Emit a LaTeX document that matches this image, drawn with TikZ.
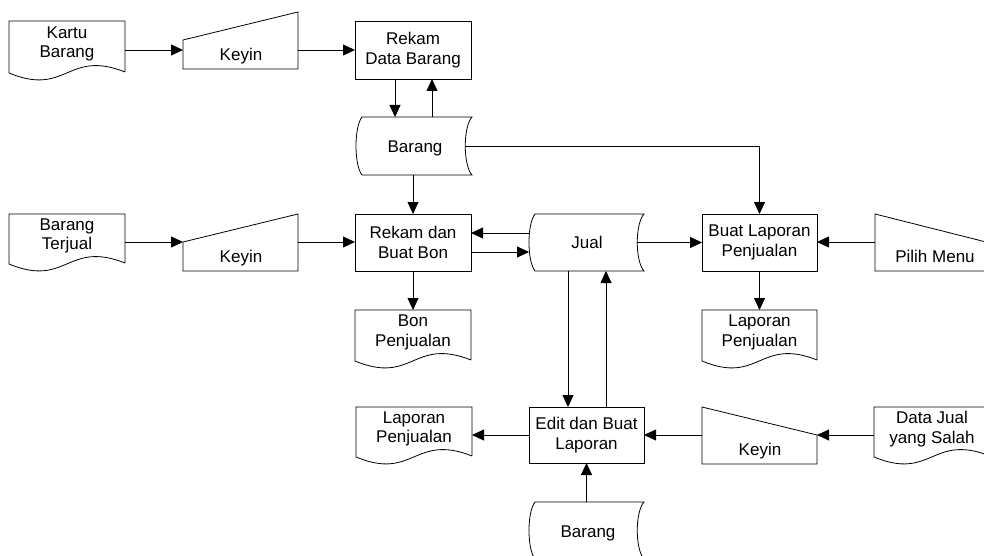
\documentclass[tikz,border=0pt]{standalone}
\usepackage{fontspec}
\setmainfont{Liberation Sans}
\usetikzlibrary{arrows.meta,calc}
\newcommand\docshape[6]{%
  \draw[shp] (#4,#5-1) -- (#4,#3) -- (#2,#3) -- (#2,#5) .. controls ({(#2+#4)/2},#5+24) and ({(#2+#4)/2},#5-24) .. (#4,#5-1);
  \node[area, minimum width={(#4-#2)*1pt}, minimum height={(#5-#3)*1pt}] (#1) at ({(#2+#4)/2},{(#3+#5)/2}) {};
  \node[txt] (#1-t) at ({(#2+#4)/2},{(#3+#5)/2-3}) {#6};}
\newcommand\storeshape[5]{%
  \draw[shp] (#2,#4) -- (#3,#4) .. controls (#3-9,#4+10) and (#3-9,#5-10) .. (#3,#5) -- (#2,#5) .. controls (#2-8,#5-10) and (#2-8,#4+10) .. (#2,#4) -- cycle;
  \node[area, minimum width={(#3-#2+6)*1pt}, minimum height={(#5-#4)*1pt}] (#1) at ({(#2-6+#3)/2},{(#4+#5)/2}) {};}
\begin{document}
\begin{tikzpicture}[x=1pt,y=-1pt,
  shp/.style={draw=black, line width=0.8pt, line join=miter},
  area/.style={draw=none, inner sep=0pt, outer sep=0pt, rectangle},
  proc/.style={draw=black, line width=0.8pt, inner sep=0pt, outer sep=0pt, align=center, font=\fontsize{17}{19.5}\selectfont},
  txt/.style={inner sep=0pt, align=center, font=\fontsize{17}{19.5}\selectfont},
  arr/.style={line width=0.8pt, -{Triangle[length=12pt,width=11pt]}}]
\path[use as bounding box, clip] (0,0) rectangle (984,556);
\fill[white] (0,0) rectangle (984,556);

% documents
\docshape{kartu}{9}{21}{125}{73}{Kartu\\Barang}
\docshape{barangT}{9}{214}{125}{264}{Barang\\Terjual}
\docshape{bon}{355}{310}{471}{361}{Bon\\Penjualan}
\docshape{lap1}{702}{310}{817}{361}{Laporan\\Penjualan}
\docshape{lap2}{356}{407}{472}{457}{Laporan\\Penjualan}
\docshape{datajual}{874}{407}{990}{457}{Data Jual\\yang Salah}

% manual inputs
\draw[shp] (183,40) -- (298,12) -- (298,69) -- (183,69) -- cycle;
\node[area, minimum width=115pt, minimum height=57pt] (keyin1) at (240.5,40.5) {};
\node[txt, anchor=base] (keyin1-t) at (241,61) {Keyin};
\draw[shp] (183,242) -- (298,214) -- (298,271) -- (183,271) -- cycle;
\node[area, minimum width=115pt, minimum height=57pt] (keyin2) at (240.5,242.5) {};
\node[txt, anchor=base] (keyin2-t) at (241,262) {Keyin};
\draw[shp] (875,214) -- (990,243) -- (990,271) -- (875,271) -- cycle;
\node[area, minimum width=115pt, minimum height=57pt] (pilih) at (932.5,242.5) {};
\node[txt, anchor=base] (pilih-t) at (935,262) {Pilih Menu};
\draw[shp] (702,407) -- (817,435) -- (817,464) -- (702,464) -- cycle;
\node[area, minimum width=115pt, minimum height=57pt] (keyin3) at (759.5,435.5) {};
\node[txt, anchor=base] (keyin3-t) at (760,455) {Keyin};

% stored data
\storeshape{barang1}{362}{472}{117}{175}
\node[txt, anchor=base] (barang1-t) at (415,153) {Barang};
\storeshape{jual}{535}{644}{214}{271}
\node[txt, anchor=base] (jual-t) at (587,248) {Jual};
\storeshape{barang2}{535}{644}{502}{559}
\node[txt, anchor=base] (barang2-t) at (588,537) {Barang};

% processes
\node[proc, minimum width=116pt, minimum height=58pt] (rekam1) at (413,50) {Rekam\\Data Barang};
\node[proc, minimum width=116pt, minimum height=57pt] (rekam2) at (413,242.5) {Rekam dan\\Buat Bon};
\node[proc, minimum width=115pt, minimum height=57pt] (buatlap) at (759.5,242.5) {Buat Laporan\\Penjualan};
\node[proc, minimum width=115pt, minimum height=56pt] (edit) at (586.5,435) {Edit dan Buat\\Laporan};

% connectors
\draw[arr] (kartu.east |- 0,50) -- (keyin1.west |- 0,50);
\draw[arr] (keyin1.east |- 0,50) -- (rekam1.west |- 0,50);
\draw[arr] (rekam1.south -| 395,0) -- (barang1.north -| 395,0);
\draw[arr] (barang1.north -| 432,0) -- (rekam1.south -| 432,0);
\draw[arr] (barang1.south -| rekam2.north) -- (rekam2.north);
\draw[arr] ([xshift=-7pt]barang1.east) -| (buatlap.north);
\draw[arr] (barangT.east |- 0,242) -- (keyin2.west |- 0,242);
\draw[arr] (keyin2.east |- 0,242) -- (rekam2.west |- 0,242);
\draw[arr] (jual.west |- 0,233) -- (rekam2.east |- 0,233);
\draw[arr] (rekam2.east |- 0,252) -- (jual.west |- 0,252);
\draw[arr] ([xshift=-7pt]jual.east) -- (buatlap.west);
\draw[arr] (pilih.west |- 0,242) -- (buatlap.east |- 0,242);
\draw[arr] (rekam2.south) -- (bon.north);
\draw[arr] (buatlap.south) -- (lap1.north);
\draw[arr] (jual.south -| 568,0) -- (edit.north -| 568,0);
\draw[arr] (edit.north -| 606,0) -- (jual.south -| 606,0);
\draw[arr] (edit.west) -- (lap2.east |- edit.west);
\draw[arr] (keyin3.west |- edit.east) -- (edit.east);
\draw[arr] (datajual.west |- 0,435) -- (keyin3.east |- 0,435);
\draw[arr] (barang2.north -| edit.south) -- (edit.south);
\end{tikzpicture}
\end{document}
